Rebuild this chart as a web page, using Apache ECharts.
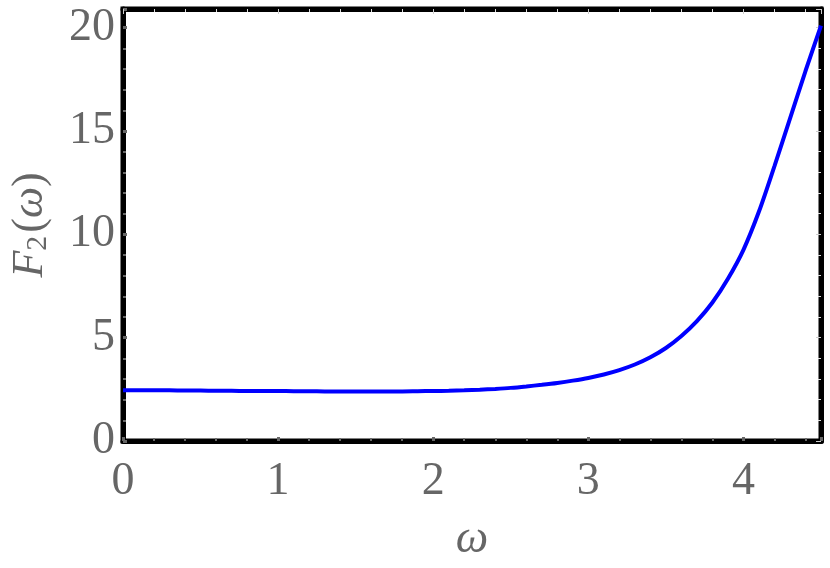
<!DOCTYPE html>
<html>
<head>
<meta charset="utf-8">
<script src="https://cdn.jsdelivr.net/npm/echarts@6/dist/echarts.min.js"></script>
<style>
html,body{margin:0;padding:0;background:#fff;}
#c{width:830px;height:568px;}
</style>
</head>
<body>
<div id="c"></div>
<script>
const omega = [0.0, 0.1, 0.2, 0.3, 0.4, 0.5, 0.6, 0.7, 0.8, 0.9,
               1.0, 1.1, 1.2, 1.3, 1.4, 1.5, 1.6, 1.7, 1.8, 1.9,
               2.0, 2.1, 2.2, 2.3, 2.4, 2.5, 2.6, 2.7, 2.8, 2.9,
               3.0, 3.1, 3.2, 3.3, 3.4, 3.5, 3.6, 3.7, 3.8, 3.9,
               4.0, 4.1, 4.2, 4.3, 4.4, 4.5];
const F2 = [2.46, 2.46, 2.45, 2.45, 2.44, 2.44, 2.43, 2.43, 2.42, 2.42,
            2.42, 2.41, 2.41, 2.40, 2.40, 2.40, 2.40, 2.40, 2.40, 2.41,
            2.42, 2.43, 2.45, 2.48, 2.52, 2.57, 2.64, 2.72, 2.81, 2.92,
            3.05, 3.22, 3.43, 3.70, 4.05, 4.50, 5.08, 5.80, 6.70, 7.85,
            9.25, 11.1, 13.3, 15.6, 17.9, 20.1];
const xTicks = ['0', '1', '2', '3', '4'];
const yTicks = ['0', '5', '10', '15', '20'];

const font = '"Liberation Serif", "DejaVu Serif", serif';
const gray = '#666666';
const chart = echarts.init(document.getElementById('c'));
const frame = () => ({show: true, onZero: false, lineStyle: {color: '#000', width: 5}});
chart.setOption({
  animation: false,
  grid: {left: 117, right: 9, top: 9, bottom: 126, show: true, borderColor: '#000', borderWidth: 5, backgroundColor: 'transparent'},
  xAxis: [{
    type: 'value', min: 0, max: 4.5, interval: 1,
    axisLine: frame(),
    axisTick: {show: true, inside: true, length: 4, lineStyle: {color: gray, width: 3}},
    minorTick: {show: true, splitNumber: 5, length: 3, lineStyle: {color: gray, width: 2}},
    splitLine: {show: false},
    axisLabel: {show: true, showMaxLabel: false, margin: 18, color: gray, fontFamily: font, fontSize: 46,
      formatter: v => xTicks[Math.round(v)] ?? ''},
    name: 'ω', nameLocation: 'middle', nameGap: 76,
    nameTextStyle: {color: gray, fontFamily: font, fontSize: 46, fontStyle: 'italic'}
  }, {
    type: 'value', position: 'top', min: 0, max: 4.5, interval: 1,
    axisLine: frame(),
    axisTick: {show: true, inside: true, length: 5, lineStyle: {color: '#cccccc', width: 1}},
    minorTick: {show: true, splitNumber: 5, length: 3, lineStyle: {color: '#dddddd', width: 1}},
    splitLine: {show: false}, axisLabel: {show: false}
  }],
  yAxis: [{
    type: 'value', min: 0, max: 20.9, interval: 5,
    axisLine: frame(),
    axisTick: {show: true, inside: true, length: 4, lineStyle: {color: gray, width: 3}},
    minorTick: {show: true, splitNumber: 5, length: 3, lineStyle: {color: gray, width: 2}},
    splitLine: {show: false},
    axisLabel: {show: true, showMaxLabel: false, margin: 8, color: gray, fontFamily: font, fontSize: 46,
      formatter: v => yTicks[Math.round(v / 5)] ?? ''},
    name: '{i|F}{s|2}{n|(}{i|ω}{n|)}', nameLocation: 'middle', nameGap: 70,
    nameTextStyle: {color: gray, fontFamily: font, fontSize: 44,
      rich: {
        i: {fontFamily: font, fontSize: 44, fontStyle: 'italic', color: gray},
        s: {fontFamily: font, fontSize: 30, color: gray, padding: [16, 3, 0, 0]},
        n: {fontFamily: font, fontSize: 44, color: gray}
      }}
  }, {
    type: 'value', position: 'right', min: 0, max: 20.9, interval: 5,
    axisLine: frame(),
    axisTick: {show: true, inside: true, length: 5, lineStyle: {color: '#cccccc', width: 1}},
    minorTick: {show: true, splitNumber: 5, length: 3, lineStyle: {color: '#dddddd', width: 1}},
    splitLine: {show: false}, axisLabel: {show: false}
  }],
  series: [{
    type: 'line', xAxisIndex: 0, yAxisIndex: 0,
    data: omega.map((x, i) => [x, F2[i]]),
    smooth: 0.3, showSymbol: false, symbol: 'none',
    lineStyle: {color: '#0000ff', width: 4},
    clip: true
  }]
});
</script>
</body>
</html>
